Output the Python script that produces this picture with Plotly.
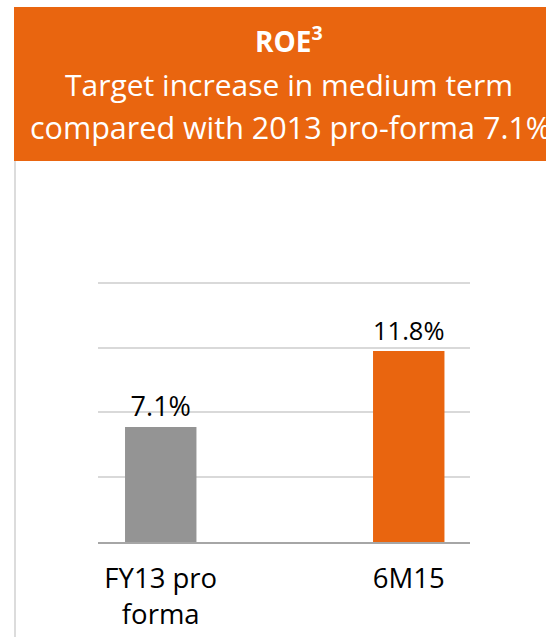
import plotly.graph_objects as go

categories = ["FY13 pro<br>forma", "6M15"]
roe_values = [7.1, 11.8]
bar_colors = ["#949494", "#E9650F"]
y_ticks = [0, 4, 8, 12, 16]
header_title = "<b>ROE<sup>3</sup></b>"
header_line1 = "Target increase in medium term"
header_line2 = "compared with 2013 pro-forma 7.1%"

W, H = 546, 637
Y_MAX = 16.3
UNIT = 16.15
L, R, B = 98, 76, 95.3
T = (H - B) - Y_MAX * UNIT
pw, ph = W - L - R, H - T - B


def px(x):
    return (x - L) / pw


def py(y):
    return (H - B - y) / ph


fig = go.Figure()
fig.add_trace(go.Bar(
    x=[0, 1],
    y=roe_values,
    width=0.288,
    marker=dict(color=bar_colors, line=dict(width=0)),
    texttemplate="%{y:.1f}%",
    textposition="outside",
    textfont=dict(family="Open Sans", size=27, color="#000000"),
    cliponaxis=False,
    hoverinfo="skip",
))

# header box
fig.add_shape(type="rect", xref="paper", yref="paper",
              x0=px(14), x1=px(560), y0=py(161.7), y1=py(8.3),
              fillcolor="#E9650F", line=dict(width=0), layer="below")
# left panel border
fig.add_shape(type="line", xref="paper", yref="paper",
              x0=px(15), x1=px(15), y0=py(161.7), y1=py(640),
              line=dict(color="#DCDCDC", width=2), layer="below")

fig.add_annotation(text=header_title, xref="paper", yref="paper",
                   x=px(289), y=py(41), xanchor="center", yanchor="middle",
                   showarrow=False, font=dict(family="Open Sans", size=28, color="white"))
fig.add_annotation(text=header_line1, xref="paper", yref="paper",
                   x=px(289), y=py(86), xanchor="center", yanchor="middle",
                   showarrow=False, font=dict(family="Open Sans", size=30, color="white"))
fig.add_annotation(text=header_line2, xref="paper", yref="paper",
                   x=px(290), y=py(128), xanchor="center", yanchor="middle",
                   showarrow=False, font=dict(family="Open Sans", size=30.5, color="white"))

fig.update_layout(
    width=W, height=H,
    margin=dict(l=L, r=R, t=T, b=B, pad=0, autoexpand=False),
    paper_bgcolor="white", plot_bgcolor="white",
    showlegend=False,
    hovermode=False,
    xaxis=dict(
        tickmode="array", tickvals=[0, 1], ticktext=categories,
        range=[-0.253, 1.247], automargin=False,
        showgrid=False, zeroline=False,
        showline=True, linecolor="#A6A6A6", linewidth=2,
        ticks="", ticklabelstandoff=11,
        tickfont=dict(family="Open Sans", size=27.5, color="#000000"),
    ),
    yaxis=dict(
        range=[0, Y_MAX], tickmode="array", tickvals=y_ticks, showticklabels=False,
        automargin=False,
        showgrid=True, gridcolor="#D9D9D9", gridwidth=2,
        zeroline=False, showline=False, ticks="",
    ),
)

fig.write_html("out.html", config={"displayModeBar": False},
               post_script="document.body.style.margin='0';document.body.style.overflow='hidden';")
